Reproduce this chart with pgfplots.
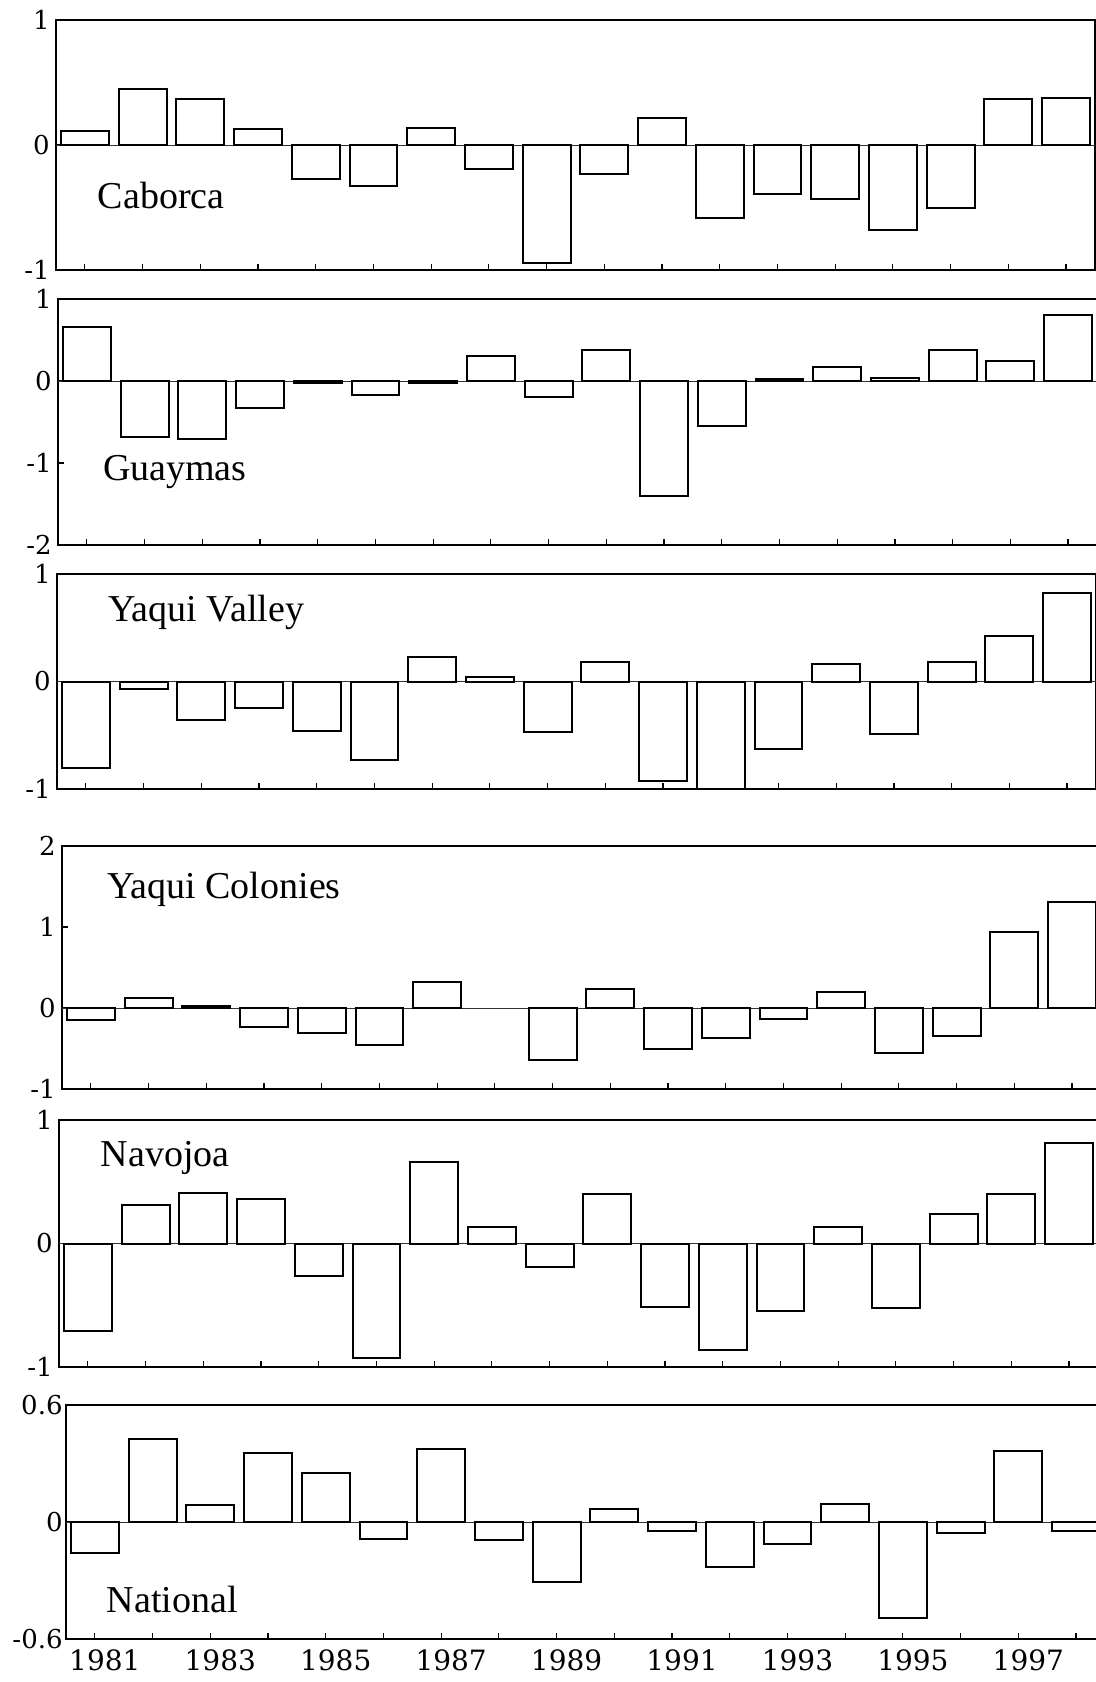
\documentclass[border=0pt]{standalone}
\usepackage{fontspec}
\setmainfont{Liberation Serif}
\newfontfamily\tickfam{DejaVu Serif}
\usepackage{pgfplots}
\pgfplotsset{compat=1.18}

\newcommand{\tickfont}{\tickfam\fontsize{13}{15}\selectfont}
\newcommand{\yearfont}{\tickfam\fontsize{14}{16}\selectfont}
\newcommand{\panelfont}{\fontsize{19}{22}\selectfont}

\pgfplotsset{
  panel/.style={
    scale only axis, width=519.5pt,
    xmin=1980.5, xmax=1998.5,
    xtick={1981,...,1998},
    xticklabels={},
    tick pos=left, tick align=inside,
    major tick length=3pt,
    every tick/.style={black, line width=0.6pt},
    axis line style={line width=1.1pt},
    yticklabel style={font=\tickfont, inner sep=3pt},
  },
  bars/.style={ybar, bar width=0.83, fill=white, draw=black, line width=1pt},
  zeroline/.style={black!80, line width=0.45pt, forget plot},
}

\begin{document}
\begin{tikzpicture}
\useasboundingbox (0,0) rectangle (548pt,-841pt);

% Caborca
\begin{axis}[panel, at={(28pt,-10pt)}, anchor=north west, height=125pt,
  ymin=-1, ymax=1, ytick={-1,0,1}, yticklabels={-1,0,1}]
\addplot[zeroline] coordinates {(1980.5,0) (1998.5,0)};
\addplot[bars] coordinates {
(1981,0.11) (1982,0.445) (1983,0.37) (1984,0.13) (1985,-0.27) (1986,-0.33)
(1987,0.14) (1988,-0.19) (1989,-0.94) (1990,-0.23) (1991,0.22) (1992,-0.58)
(1993,-0.39) (1994,-0.43) (1995,-0.68) (1996,-0.50) (1997,0.37) (1998,0.38)};
\node[anchor=base west, inner sep=0pt, font=\panelfont] at (rel axis cs:0.040,0.248) {Caborca};
\end{axis}

% Guaymas
\begin{axis}[panel, at={(29pt,-149.5pt)}, anchor=north west, height=123pt,
  ymin=-2, ymax=1, ytick={-2,-1,0,1}, yticklabels={-2,-1,0,1}]
\addplot[zeroline] coordinates {(1980.5,0) (1998.5,0)};
\addplot[bars] coordinates {
(1981,0.66) (1982,-0.68) (1983,-0.71) (1984,-0.33) (1985,-0.03) (1986,-0.17)
(1987,-0.02) (1988,0.30) (1989,-0.20) (1990,0.38) (1991,-1.40) (1992,-0.55)
(1993,0.02) (1994,0.17) (1995,0.04) (1996,0.38) (1997,0.25) (1998,0.80)};
\node[anchor=base west, inner sep=0pt, font=\panelfont] at (rel axis cs:0.043,0.264) {Guaymas};
\end{axis}

% Yaqui Valley
\begin{axis}[panel, at={(28.5pt,-287pt)}, anchor=north west, height=107.5pt,
  ymin=-1, ymax=1, ytick={-1,0,1}, yticklabels={-1,0,1}]
\addplot[zeroline] coordinates {(1980.5,0) (1998.5,0)};
\addplot[bars] coordinates {
(1981,-0.80) (1982,-0.07) (1983,-0.355) (1984,-0.25) (1985,-0.46) (1986,-0.73)
(1987,0.23) (1988,0.04) (1989,-0.47) (1990,0.18) (1991,-0.93) (1992,-1.0)
(1993,-0.63) (1994,0.16) (1995,-0.49) (1996,0.18) (1997,0.42) (1998,0.82)};
\node[anchor=base west, inner sep=0pt, font=\panelfont] at (rel axis cs:0.049,0.777) {Yaqui Valley};
\end{axis}

% Yaqui Colonies
\begin{axis}[panel, at={(31pt,-423pt)}, anchor=north west, height=121.5pt,
  ymin=-1, ymax=2, ytick={-1,0,1,2}, yticklabels={-1,0,1,2}]
\addplot[zeroline] coordinates {(1980.5,0) (1998.5,0)};
\addplot[bars] coordinates {
(1981,-0.15) (1982,0.12) (1983,0.03) (1984,-0.24) (1985,-0.31) (1986,-0.46)
(1987,0.32) (1989,-0.64) (1990,0.23) (1991,-0.51) (1992,-0.37)
(1993,-0.13) (1994,0.20) (1995,-0.56) (1996,-0.35) (1997,0.94) (1998,1.31)};
\node[anchor=base west, inner sep=0pt, font=\panelfont] at (rel axis cs:0.043,0.786) {Yaqui Colonies};
\end{axis}

% Navojoa
\begin{axis}[panel, at={(29.5pt,-560pt)}, anchor=north west, height=123.5pt,
  ymin=-1, ymax=1, ytick={-1,0,1}, yticklabels={-1,0,1}]
\addplot[zeroline] coordinates {(1980.5,0) (1998.5,0)};
\addplot[bars] coordinates {
(1981,-0.71) (1982,0.31) (1983,0.41) (1984,0.36) (1985,-0.26) (1986,-0.93)
(1987,0.66) (1988,0.13) (1989,-0.19) (1990,0.40) (1991,-0.51) (1992,-0.86)
(1993,-0.55) (1994,0.13) (1995,-0.52) (1996,0.24) (1997,0.40) (1998,0.81)};
\node[anchor=base west, inner sep=0pt, font=\panelfont] at (rel axis cs:0.040,0.810) {Navojoa};
\end{axis}

% National
\begin{axis}[panel, at={(33pt,-702.5pt)}, anchor=north west, height=117pt,
  ymin=-0.6, ymax=0.6, ytick={-0.6,0,0.6}, yticklabels={-0.6,0,0.6},
  yticklabel style={inner sep=1.5pt},
  xticklabels={1981,,1983,,1985,,1987,,1989,,1991,,1993,,1995,,1997,},
  xticklabel style={font=\yearfont, yshift=-2pt, xshift=5pt}]
\addplot[zeroline] coordinates {(1980.5,0) (1998.5,0)};
\addplot[bars] coordinates {
(1981,-0.157) (1982,0.424) (1983,0.087) (1984,0.356) (1985,0.251) (1986,-0.089)
(1987,0.373) (1988,-0.092) (1989,-0.308) (1990,0.065) (1991,-0.044) (1992,-0.232)
(1993,-0.113) (1994,0.092) (1995,-0.494) (1996,-0.058) (1997,0.366) (1998,-0.044)};
\node[anchor=base west, inner sep=0pt, font=\panelfont] at (rel axis cs:0.039,0.115) {National};
\end{axis}
\end{tikzpicture}
\end{document}
